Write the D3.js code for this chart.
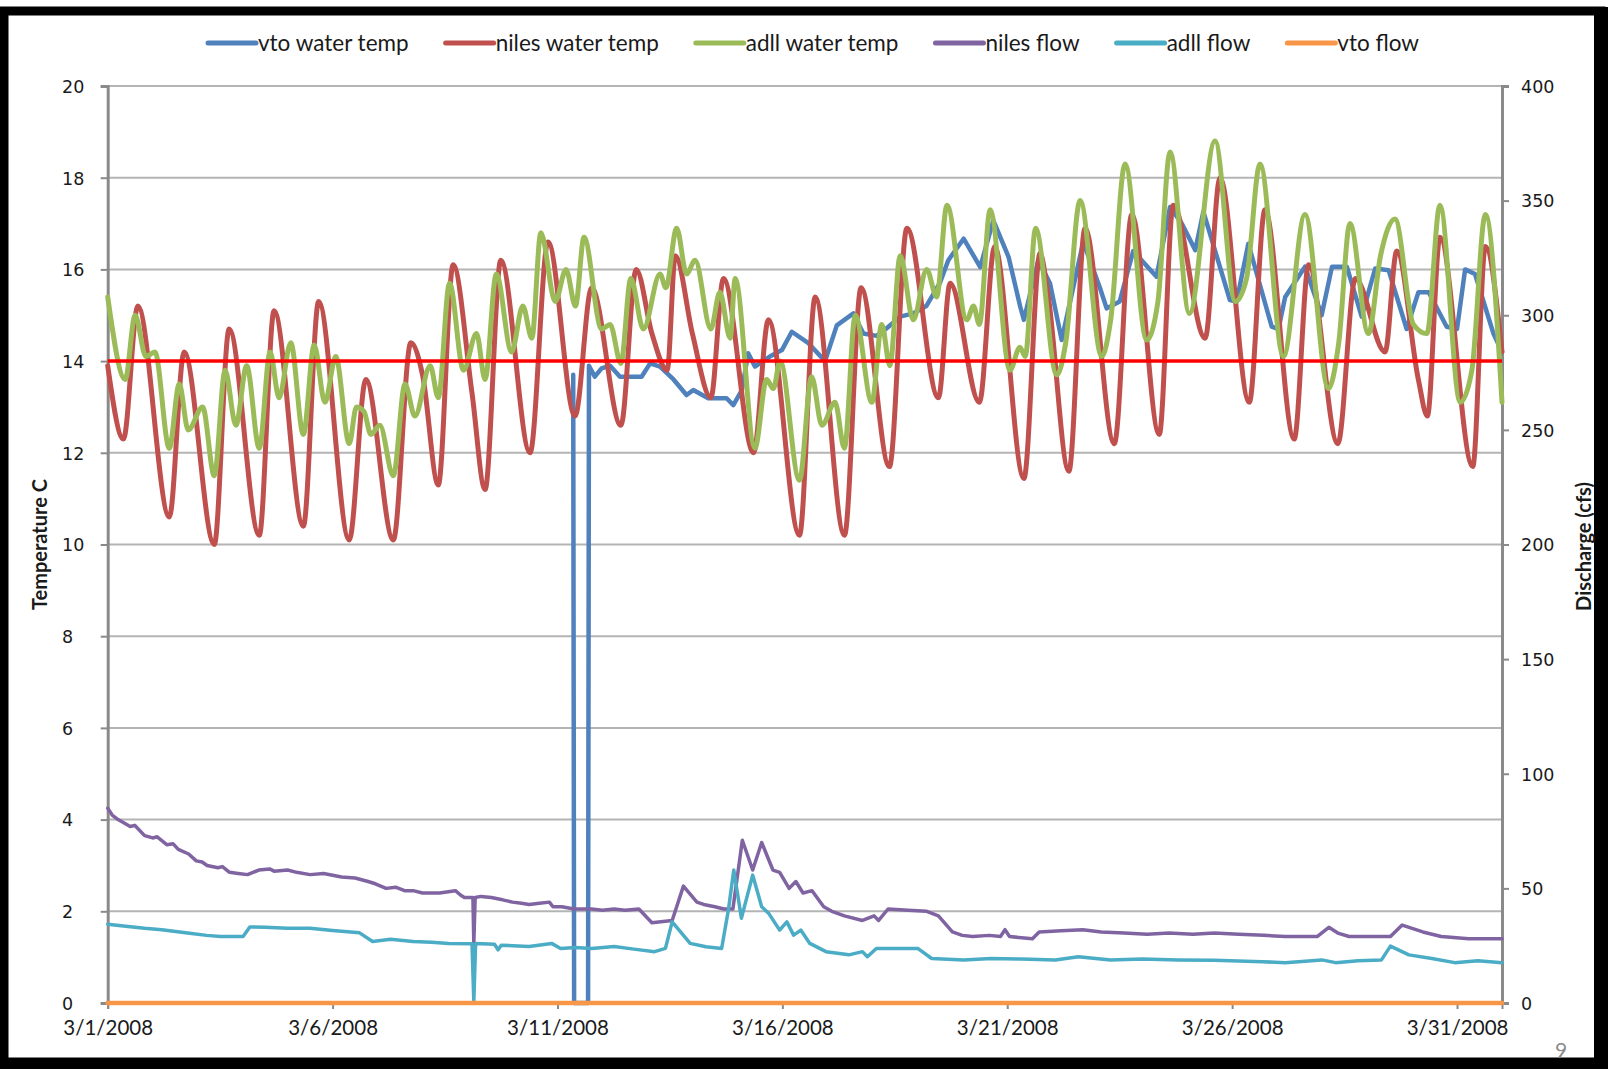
<!DOCTYPE html>
<html>
<head>
<meta charset="utf-8">
<script src="https://cdn.jsdelivr.net/npm/d3@7/dist/d3.min.js"></script>
<style>
  html, body { margin: 0; padding: 0; background: #fff; }
  svg { display: block; }
</style>
</head>
<body>
<svg id="chart" width="1608" height="1069"></svg>
<script>
// ---- Series names and colours (legend order = drawing order) ----
const seriesNames  = ["vto water temp", "niles water temp", "adll water temp", "niles flow", "adll flow", "vto flow"];
const seriesColors = ["#4f81bd", "#c0504d", "#9bbb59", "#8064a2", "#4bacc6", "#f79646"];

// ---- Readings: [days since 3/1/2008 00:00, value] ----
// Water temperature, deg C (left axis)
const vtoWaterTemp = [
  [10.35, 13.7], [10.37, 0], [10.68, 0], [10.70, 13.9], [10.83, 13.66], [10.98, 13.84], [11.17, 13.9],
  [11.39, 13.66], [11.87, 13.66], [12.06, 13.95], [12.28, 13.88], [12.58, 13.6], [12.87, 13.26],
  [13.02, 13.37], [13.35, 13.19], [13.76, 13.19], [13.91, 13.04], [14.1, 13.37], [14.24, 14.17],
  [14.39, 13.88], [14.72, 14.1], [14.99, 14.24], [15.21, 14.64], [15.58, 14.39], [15.95, 14.0],
  [16.21, 14.78], [16.58, 15.04], [16.8, 14.6], [17.1, 14.55], [17.3, 14.7], [17.62, 14.97],
  [17.91, 15.04], [18.2, 15.2], [18.5, 15.7], [18.69, 16.2], [19.03, 16.67], [19.4, 16.05],
  [19.69, 17.07], [20.03, 16.27], [20.29, 15.18], [20.37, 14.9], [20.69, 16.2], [20.95, 15.7],
  [21.21, 14.46], [21.69, 16.6], [22.06, 15.6], [22.21, 15.15], [22.5, 15.3], [22.8, 16.4],
  [23.32, 15.84], [23.62, 17.36], [23.88, 17.0], [24.18, 16.42], [24.36, 17.26], [24.95, 15.33],
  [25.1, 15.3], [25.36, 16.56], [25.88, 14.75], [26.03, 14.7], [26.18, 15.4], [26.62, 16.06],
  [26.99, 15.0], [27.22, 16.06], [27.55, 16.06], [27.88, 14.97], [28.18, 16.02], [28.48, 15.98],
  [28.88, 14.7], [29.14, 15.5], [29.37, 15.5], [29.77, 14.75], [30.0, 14.7], [30.18, 16.0],
  [30.4, 15.9], [30.81, 14.6], [31.0, 14.2]
];

const nilesWaterTemp = [
  [0, 13.9], [0.35, 12.3], [0.67, 15.2], [1.37, 10.6], [1.70, 14.2], [2.37, 10.0], [2.70, 14.7],
  [3.37, 10.2], [3.70, 15.1], [4.35, 10.4], [4.69, 15.3], [5.37, 10.1], [5.74, 13.6], [6.35, 10.1],
  [6.74, 14.4], [7.0, 13.7], [7.35, 11.3], [7.68, 16.1], [8.1, 13.3], [8.39, 11.2], [8.74, 16.2],
  [9.39, 12.0], [9.79, 16.6], [10.39, 12.8], [10.76, 15.6], [11.41, 12.6], [11.75, 16.0],
  [12.1, 14.6], [12.44, 13.8], [12.62, 16.3], [13.0, 14.6], [13.41, 13.2], [13.69, 15.8],
  [14.36, 12.0], [14.69, 14.9], [15.38, 10.2], [15.73, 15.4], [16.38, 10.2], [16.75, 15.6],
  [17.38, 11.7], [17.77, 16.9], [18.47, 13.2], [18.73, 15.7], [19.38, 13.1], [19.72, 16.5],
  [20.37, 11.44], [20.73, 16.35], [20.9, 15.5], [21.37, 11.6], [21.73, 16.9], [22.38, 12.2],
  [22.77, 17.2], [23.38, 12.4], [23.69, 17.4], [24.4, 14.5], [24.73, 18.0], [25.38, 13.1],
  [25.73, 17.3], [26.38, 12.3], [26.7, 16.1], [27.35, 12.2], [27.74, 15.8], [28.40, 14.2],
  [28.66, 16.4], [29.14, 13.6], [29.34, 12.8], [29.62, 16.7], [30.35, 11.7], [30.63, 16.5],
  [31.0, 14.2]
];

const adllWaterTemp = [
  [0, 15.4], [0.39, 13.6], [0.61, 15.0], [0.85, 14.1], [1.05, 14.2], [1.37, 12.1], [1.59, 13.5],
  [1.79, 12.5], [2.11, 13.0], [2.37, 11.5], [2.61, 13.8], [2.85, 12.6], [3.09, 13.9], [3.37, 12.1],
  [3.61, 14.2], [3.81, 13.2], [4.07, 14.4], [4.35, 12.4], [4.59, 14.35], [4.83, 13.1], [5.07, 14.1],
  [5.37, 12.2], [5.53, 13.0], [5.7, 12.9], [5.85, 12.4], [6.05, 12.6], [6.35, 11.5], [6.61, 13.5],
  [6.83, 12.8], [7.17, 13.9], [7.35, 13.2], [7.6, 15.7], [7.91, 13.8], [8.2, 14.6], [8.39, 13.6],
  [8.64, 15.9], [8.98, 14.2], [9.23, 15.2], [9.43, 14.5], [9.63, 16.8], [9.95, 15.3], [10.19, 16.0],
  [10.4, 15.2], [10.59, 16.7], [10.98, 14.7], [11.17, 14.8], [11.41, 13.95], [11.63, 15.8],
  [11.91, 14.7], [12.28, 15.9], [12.41, 15.6], [12.65, 16.9], [12.87, 15.9], [13.06, 16.2],
  [13.41, 14.7], [13.61, 15.5], [13.84, 14.5], [13.95, 15.8], [14.39, 12.1], [14.65, 13.6],
  [14.8, 13.4], [14.95, 14.0], [15.38, 11.4], [15.65, 13.66], [15.88, 12.6], [16.17, 13.1],
  [16.38, 12.1], [16.62, 15.0], [16.99, 13.1], [17.21, 14.8], [17.39, 13.9], [17.62, 16.3],
  [17.91, 14.9], [18.21, 16.0], [18.43, 15.4], [18.66, 17.4], [19.1, 14.9], [19.25, 15.2],
  [19.38, 14.8], [19.62, 17.3], [20.06, 13.8], [20.28, 14.3], [20.4, 14.1], [20.63, 16.9],
  [21.1, 13.7], [21.3, 14.4], [21.62, 17.5], [22.1, 14.1], [22.3, 14.9], [22.62, 18.3],
  [23.1, 14.46], [23.35, 15.3], [23.62, 18.56], [24.05, 15.04], [24.62, 18.8], [25.07, 15.3],
  [25.32, 15.8], [25.62, 18.3], [26.14, 14.1], [26.62, 17.2], [27.14, 13.4], [27.37, 14.4],
  [27.62, 17.0], [28.03, 14.6], [28.3, 16.3], [28.62, 17.1], [29.03, 14.8], [29.33, 14.6],
  [29.62, 17.4], [30.07, 13.1], [30.33, 13.8], [30.63, 17.2], [31.0, 13.1]
];

// Discharge, cfs (right axis)
const nilesFlow = [
  [0, 85], [0.1, 82], [0.23, 80], [0.5, 77], [0.6, 77.5], [0.82, 73], [1.0, 72], [1.1, 72.5],
  [1.32, 69], [1.45, 69.5], [1.57, 67], [1.8, 65], [1.97, 62], [2.1, 61.5], [2.21, 60], [2.45, 59],
  [2.55, 59.5], [2.71, 57], [2.9, 56.5], [3.11, 56], [3.36, 58], [3.6, 58.5], [3.7, 57.5], [4.0, 58],
  [4.2, 57], [4.5, 56], [4.8, 56.5], [5.2, 55], [5.5, 54.5], [5.79, 53], [5.95, 52], [6.19, 50],
  [6.4, 50.5], [6.6, 49], [6.79, 49], [7.0, 48], [7.38, 48], [7.73, 49], [7.85, 47], [7.93, 46],
  [8.12, 46], [8.14, 26], [8.17, 46], [8.3, 46.5], [8.53, 46], [8.78, 45], [9.0, 44], [9.2, 43.5],
  [9.37, 43], [9.6, 43.5], [9.82, 44], [9.9, 42], [10.1, 42], [10.37, 41], [10.76, 41], [11.0, 40.5],
  [11.26, 41], [11.5, 40.5], [11.81, 41], [12.1, 35], [12.55, 36], [12.8, 51], [13.1, 44],
  [13.25, 43], [13.5, 42], [13.7, 41], [13.9, 41], [14.11, 71], [14.34, 58], [14.54, 70],
  [14.79, 58], [14.94, 57], [15.15, 50], [15.3, 53], [15.46, 48], [15.66, 49], [15.92, 42],
  [16.1, 40], [16.38, 38], [16.78, 36], [17.04, 38], [17.14, 36], [17.35, 41], [17.8, 40.5],
  [18.21, 40], [18.47, 38], [18.78, 31], [19.0, 29.5], [19.23, 29], [19.6, 29.5], [19.85, 29],
  [19.95, 32], [20.05, 29], [20.56, 28], [20.71, 31], [21.2, 31.5], [21.68, 32], [22.09, 31],
  [22.6, 30.5], [23.11, 30], [23.6, 30.5], [24.13, 30], [24.6, 30.5], [25.15, 30], [25.7, 29.5],
  [26.18, 29], [26.89, 29], [27.15, 33], [27.35, 30.5], [27.6, 29], [28.52, 29], [28.78, 34],
  [29.24, 31], [29.65, 29], [30.26, 28], [31.0, 28]
];

const adllFlow = [
  [0, 34.4], [0.4, 33.5], [0.82, 32.6], [1.2, 32], [1.82, 30.4], [2.2, 29.5], [2.51, 29], [3.01, 29],
  [3.16, 33.2], [3.5, 33], [4.0, 32.6], [4.5, 32.6], [5.0, 31.6], [5.6, 30.6], [5.89, 26.8],
  [6.29, 27.8], [6.79, 26.8], [7.2, 26.5], [7.58, 26], [8.1, 25.8], [8.14, 0.6], [8.18, 26],
  [8.6, 25.6], [8.68, 23.2], [8.75, 25.2], [9.0, 25], [9.37, 24.6], [9.87, 26], [10.07, 23.8],
  [10.4, 24.2], [10.76, 23.8], [11.26, 24.6], [11.7, 23.5], [12.16, 22.4], [12.4, 23.8],
  [12.55, 35.4], [12.95, 26], [13.3, 24.5], [13.65, 23.8], [13.8, 40.6], [13.92, 58], [14.09, 37],
  [14.34, 55.8], [14.54, 42], [14.7, 39], [14.94, 31.8], [15.1, 35.4], [15.25, 29.6], [15.41, 31.8],
  [15.61, 26], [15.97, 22.4], [16.48, 21], [16.78, 22.4], [16.89, 20.2], [17.09, 23.8],
  [18.01, 23.8], [18.32, 19.4], [19.03, 18.8], [19.64, 19.4], [20.3, 19.2], [21.07, 18.8],
  [21.58, 20.2], [22.3, 18.8], [23.0, 19.2], [23.8, 18.8], [24.6, 18.6], [25.67, 18], [26.18, 17.6],
  [26.99, 18.8], [27.3, 17.6], [27.8, 18.4], [28.32, 18.8], [28.52, 24.8], [28.93, 21],
  [29.44, 19.4], [29.95, 17.6], [30.46, 18.4], [31.0, 17.6]
];

const vtoFlow = [[0, 0], [31, 0]];

// ---- Axes ----
const tempTicks = d3.range(0, 21, 2);
const flowTicks = d3.range(0, 401, 50);
const dateTickDays = [0, 5, 10, 15, 20, 25, 30];
const tempDomain = [0, 20];
const flowDomain = [0, 400];
const thresholdTemp = 14;
const tempTitle = "Temperature C";
const flowTitle = "Discharge (cfs)";
const pageNumber = "9";

// ---- Layout ----
const W = 1608, H = 1069;
const plot = { left: 107.7, right: 1502, top: 86, bottom: 1003 };
const startMs = Date.UTC(2008, 2, 1);
const toDate = d => new Date(startMs + d * 864e5);

const svg = d3.select("#chart");

const x = d3.scaleUtc()
  .domain([new Date(startMs), new Date(Date.UTC(2008, 3, 1))])
  .range([plot.left, plot.right]);
const yTemp = d3.scaleLinear().domain(tempDomain).range([plot.bottom, plot.top]);
const yFlow = d3.scaleLinear().domain(flowDomain).range([plot.bottom, plot.top]);

// page background and black frame
svg.append("rect").attr("width", W).attr("height", H).attr("fill", "#fff");
svg.append("rect")
  .attr("x", 4).attr("y", 11).attr("width", W - 11).attr("height", H - 7 - 11)
  .attr("fill", "none").attr("stroke", "#000").attr("stroke-width", 9);
svg.append("rect").attr("x", W - 14).attr("y", 7).attr("width", 14).attr("height", H - 7).attr("fill", "#000");
svg.append("rect").attr("x", 0).attr("y", H - 10).attr("width", W).attr("height", 10).attr("fill", "#000");

// gridlines
svg.append("g")
  .selectAll("line")
  .data(tempTicks.filter(t => t > 0))
  .join("line")
  .attr("x1", plot.left).attr("x2", plot.right)
  .attr("y1", d => yTemp(d)).attr("y2", d => yTemp(d))
  .attr("stroke", "#b4b4b4").attr("stroke-width", 2);

const axisColor = "#8a8a8a";
const tickFont = "'DejaVu Sans', Verdana, sans-serif";
const textFont = "Lato, 'Open Sans', sans-serif";

// left axis (temperature)
const leftAxis = svg.append("g")
  .attr("transform", `translate(${plot.left},0)`)
  .call(d3.axisLeft(yTemp).tickValues(tempTicks).tickSize(7).tickPadding(0).tickFormat(d3.format("d")));
leftAxis.select(".domain").attr("stroke", axisColor).attr("stroke-width", 3);
leftAxis.selectAll(".tick line").attr("stroke", axisColor).attr("stroke-width", 2);
leftAxis.selectAll(".tick text")
  .attr("x", 62 - plot.left).attr("text-anchor", "start").attr("dy", "0.36em")
  .attr("font-family", tickFont).attr("font-size", 17.5).attr("fill", "#1a1a1a");

// right axis (discharge)
const rightAxis = svg.append("g")
  .attr("transform", `translate(${plot.right},0)`)
  .call(d3.axisRight(yFlow).tickValues(flowTicks).tickSize(7).tickPadding(0).tickFormat(d3.format("d")));
rightAxis.select(".domain").attr("stroke", axisColor).attr("stroke-width", 3);
rightAxis.selectAll(".tick line").attr("stroke", axisColor).attr("stroke-width", 2);
rightAxis.selectAll(".tick text")
  .attr("x", 19).attr("text-anchor", "start").attr("dy", "0.36em")
  .attr("font-family", tickFont).attr("font-size", 17.5).attr("fill", "#1a1a1a");

// bottom axis (dates every 5 days)
const bottomAxis = svg.append("g")
  .attr("transform", `translate(0,${plot.bottom})`)
  .call(d3.axisBottom(x).tickValues(dateTickDays.map(toDate)).tickSize(6).tickPadding(11)
    .tickFormat(d3.utcFormat("%-m/%-d/%Y")));
bottomAxis.select(".domain").attr("stroke", axisColor).attr("stroke-width", 2);
bottomAxis.selectAll(".tick line").attr("stroke", axisColor).attr("stroke-width", 2);
bottomAxis.selectAll(".tick text")
  .attr("font-family", textFont).attr("font-size", 20.5).attr("fill", "#1a1a1a");

// axis titles
svg.append("text")
  .attr("transform", `translate(47,${(plot.top + plot.bottom) / 2}) rotate(-90)`)
  .attr("text-anchor", "middle")
  .attr("font-family", textFont).attr("font-size", 20).attr("font-weight", 700).attr("fill", "#1a1a1a")
  .text(tempTitle);
svg.append("text")
  .attr("transform", `translate(1591,${(plot.top + plot.bottom) / 2 + 2}) rotate(-90)`)
  .attr("text-anchor", "middle")
  .attr("font-family", textFont).attr("font-size", 20).attr("font-weight", 700).attr("fill", "#1a1a1a")
  .text(flowTitle);

// ---- Series lines ----
const tempLine = curve => d3.line()
  .x(d => x(toDate(d[0]))).y(d => yTemp(d[1])).curve(curve);
const flowLine = d3.line()
  .x(d => x(toDate(d[0]))).y(d => yFlow(d[1])).curve(d3.curveLinear);

const series = [
  { data: vtoWaterTemp,   gen: tempLine(d3.curveLinear),    width: 4.5 },
  { data: nilesWaterTemp, gen: tempLine(d3.curveMonotoneX), width: 5 },
  { data: adllWaterTemp,  gen: tempLine(d3.curveMonotoneX), width: 5 },
  { data: nilesFlow,      gen: flowLine,                     width: 3.5 },
  { data: adllFlow,       gen: flowLine,                     width: 3.5 },
  { data: vtoFlow,        gen: flowLine,                     width: 4.5 }
];

const lines = svg.append("g").attr("fill", "none")
  .attr("stroke-linejoin", "round").attr("stroke-linecap", "round");
series.forEach((s, i) => {
  lines.append("path")
    .attr("d", s.gen(s.data))
    .attr("stroke", seriesColors[i])
    .attr("stroke-width", s.width);
});

// 14 C reference line
svg.append("line")
  .attr("x1", plot.left).attr("x2", plot.right)
  .attr("y1", yTemp(thresholdTemp)).attr("y2", yTemp(thresholdTemp))
  .attr("stroke", "#ff0000").attr("stroke-width", 3.5);

// ---- Legend ----
const legend = svg.append("g").attr("transform", "translate(0,43)");
let lx = 208;
seriesNames.forEach((name, i) => {
  const g = legend.append("g").attr("transform", `translate(${lx},0)`);
  g.append("line").attr("x1", 0).attr("x2", 48).attr("y1", 0).attr("y2", 0)
    .attr("stroke", seriesColors[i]).attr("stroke-width", 5).attr("stroke-linecap", "round");
  const t = g.append("text").attr("x", 50).attr("dy", "0.35em")
    .attr("font-family", textFont).attr("font-size", 22.5).attr("fill", "#1a1a1a")
    .text(name);
  lx += 50 + t.node().getComputedTextLength() + 37;
});

// page number
svg.append("text")
  .attr("x", 1561).attr("y", 1058).attr("text-anchor", "middle")
  .attr("font-family", textFont).attr("font-size", 21).attr("fill", "#8a8a8a")
  .text(pageNumber);
</script>
</body>
</html>
